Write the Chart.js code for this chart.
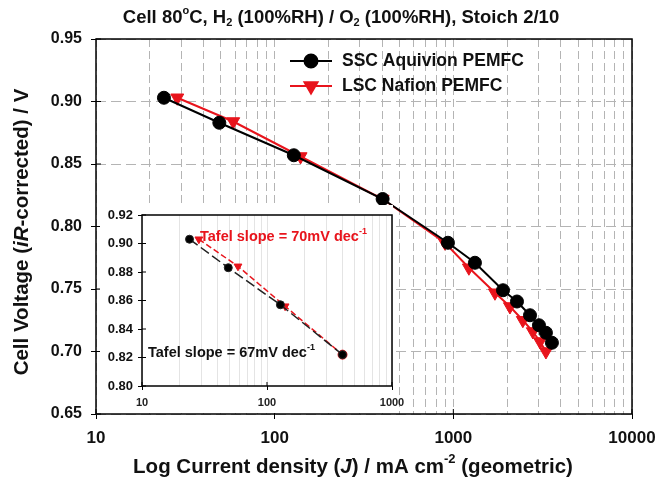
<!DOCTYPE html>
<html>
<head>
<meta charset="utf-8">
<script src="https://cdn.jsdelivr.net/npm/chart.js@4.4.1/dist/chart.umd.min.js"></script>
<style>
    html, body { margin: 0; padding: 0; background: #fff; }
    #wrap { position: relative; width: 660px; height: 483px; }
    #main { position: absolute; left: 0; top: 0; }
    #inset { position: absolute; left: 100px; top: 205px; }
</style>
</head>
<body>
<div id="wrap">
    <canvas id="main" width="660" height="483"></canvas>
    <canvas id="inset" width="314" height="208"></canvas>
</div>
<script>
// Polarisation data (current in mA cm-2, voltage in V)
const sscCurrent = [24, 49, 128, 402, 933, 1321, 1897, 2271, 2686, 3015, 3298, 3563];
const sscVoltage = [0.903, 0.883, 0.857, 0.822, 0.787, 0.771, 0.749, 0.740, 0.729, 0.721, 0.715, 0.707];
const lscCurrent = [28.5, 58.6, 139.6, 402, 897, 1222, 1710, 2074, 2449, 2786, 3055, 3298];
const lscVoltage = [0.903, 0.884, 0.856, 0.822, 0.787, 0.767, 0.747, 0.736, 0.725, 0.716, 0.708, 0.700];

// Tafel region shown in the inset (first four points of each cell)
const tafelPoints = 4;

const voltageTicks = [0.65, 0.70, 0.75, 0.80, 0.85, 0.90, 0.95];
const insetVoltageTicks = [0.80, 0.82, 0.84, 0.86, 0.88, 0.90, 0.92];

const seriesNames = ['SSC Aquivion PEMFC', 'LSC Nafion PEMFC'];
const tafelLabels = ['Tafel slope = 67mV dec', 'Tafel slope = 70mV dec'];

const FONT = '"Liberation Sans", Arial, sans-serif';
const RED = '#e8141c';
const GRID = '#b4b4b4';

const isPow10 = v => Math.abs(Math.log10(v) - Math.round(Math.log10(v))) < 1e-9;

// log ticks 1..9 x 10^n between lo and hi
function logTicks(lo, hi) {
    const out = [];
    for (let d = lo; d < hi; d *= 10) {
        for (let m = 1; m < 10; m++) out.push({ value: m * d, major: m === 1 });
    }
    out.push({ value: hi, major: true });
    return out;
}

function pairs(xs, ys, n) {
    return xs.slice(0, n || xs.length).map((x, i) => ({ x: x, y: ys[i] }));
}

// text with italic / sub / sup pieces
function richText(ctx, parts, x, y, size, align) {
    let w = 0;
    const info = parts.map(p => {
        const s = (p.sup || p.sub) ? Math.round(size * 0.62) : size;
        const f = (p.italic ? 'italic ' : '') + 'bold ' + s + 'px ' + FONT;
        ctx.font = f;
        const pw = ctx.measureText(p.t).width;
        w += pw;
        return { f: f, pw: pw, dy: p.sup ? -size * 0.36 : (p.sub ? size * 0.28 : 0) };
    });
    let cx = align === 'center' ? x - w / 2 : x;
    ctx.textAlign = 'left';
    ctx.textBaseline = 'middle';
    parts.forEach((p, i) => {
        ctx.font = info[i].f;
        ctx.fillText(p.t, cx, y + info[i].dy);
        cx += info[i].pw;
    });
}

function frameAndTicks(chart, len) {
    const ctx = chart.ctx;
    const a = chart.chartArea;
    const xs = chart.scales.x, ys = chart.scales.y;
    ctx.save();
    ctx.strokeStyle = '#000';
    ctx.lineWidth = 1.5;
    ctx.strokeRect(a.left, a.top, a.right - a.left, a.bottom - a.top);
    ctx.lineWidth = 1;
    ctx.beginPath();
    xs.ticks.filter(t => t.major).forEach(t => {
        const px = xs.getPixelForValue(t.value);
        ctx.moveTo(px, a.bottom); ctx.lineTo(px, a.bottom - len);
    });
    ys.ticks.forEach(t => {
        const py = ys.getPixelForValue(t.value);
        ctx.moveTo(a.left, py); ctx.lineTo(a.left + len, py);
    });
    ctx.stroke();
    ctx.restore();
}

const mainDecor = {
    id: 'mainDecor',
    afterDraw(chart) {
        const ctx = chart.ctx;
        const a = chart.chartArea;
        frameAndTicks(chart, 5);
        ctx.save();
        ctx.fillStyle = '#111';

        // title
        richText(ctx, [
            { t: 'Cell 80' }, { t: 'o', sup: true }, { t: 'C, H' }, { t: '2', sub: true },
            { t: ' (100%RH) / O' }, { t: '2', sub: true }, { t: ' (100%RH), Stoich 2/10' }
        ], 341, 18, 18.5, 'center');

        // x title
        richText(ctx, [
            { t: 'Log Current density (' }, { t: 'J', italic: true }, { t: ') / mA cm' },
            { t: '-2', sup: true }, { t: ' (geometric)' }
        ], 353, 467, 20.5, 'center');

        // y title
        ctx.save();
        ctx.translate(22, 232);
        ctx.rotate(-Math.PI / 2);
        richText(ctx, [
            { t: 'Cell Voltage (' }, { t: 'iR', italic: true }, { t: '-corrected) / V' }
        ], 0, 0, 20.5, 'center');
        ctx.restore();

        // legend
        chart.data.datasets.forEach((ds, i) => {
            const ly = 61 + i * 25;
            ctx.strokeStyle = ds.borderColor;
            ctx.fillStyle = ds.backgroundColor;
            ctx.lineWidth = 2;
            ctx.beginPath();
            ctx.moveTo(290, ly); ctx.lineTo(332, ly);
            ctx.stroke();
            Chart.helpers.drawPoint(ctx, {
                pointStyle: ds.pointStyle, rotation: ds.rotation || 0,
                radius: ds.pointRadius, borderWidth: 1
            }, 311, ly);
            ctx.fillStyle = '#111';
            richText(ctx, [{ t: seriesNames[i] }], 342, ly, 17.5, 'left');
        });
        ctx.restore();
    }
};

const insetDecor = {
    id: 'insetDecor',
    beforeDraw(chart) {
        // white panel hiding the main grid behind the inset
        const ctx = chart.ctx;
        ctx.save();
        ctx.fillStyle = '#fff';
        ctx.fillRect(0, 0, chart.chartArea.right + 1, chart.height);
        ctx.restore();
    },
    afterDraw(chart) {
        const ctx = chart.ctx;
        frameAndTicks(chart, 4);
        ctx.save();
        ctx.fillStyle = RED;
        richText(ctx, [{ t: tafelLabels[1] }, { t: '-1', sup: true }], 100, 32, 14.5, 'left');
        ctx.fillStyle = '#111';
        richText(ctx, [{ t: tafelLabels[0] }, { t: '-1', sup: true }], 48, 148, 14.5, 'left');
        ctx.restore();
    }
};

function axisFit(w, h) {
    return scale => {
        if (w) scale.width = w;
        if (h) scale.height = h;
        scale.paddingLeft = scale.paddingRight = scale.paddingTop = scale.paddingBottom = 0;
    };
}

const majorTick = c => (c.tick && isPow10(c.tick.value)) ? '#000' : 'rgba(0,0,0,0)';

new Chart(document.getElementById('main'), {
    type: 'line',
    data: {
        datasets: [{
            label: seriesNames[0],
            data: pairs(sscCurrent, sscVoltage),
            borderColor: '#000',
            backgroundColor: '#000',
            borderWidth: 2,
            pointStyle: 'circle',
            pointRadius: 6.5,
            pointBorderWidth: 1
        }, {
            label: seriesNames[1],
            data: pairs(lscCurrent, lscVoltage),
            borderColor: RED,
            backgroundColor: RED,
            borderWidth: 2,
            pointStyle: 'triangle',
            rotation: 180,
            pointRadius: 7.5,
            pointBorderWidth: 1
        }]
    },
    options: {
        responsive: false,
        devicePixelRatio: 1,
        animation: false,
        events: [],
        layout: { padding: { top: 39, right: 28, left: 0, bottom: 0 } },
        plugins: { legend: { display: false }, tooltip: { enabled: false } },
        scales: {
            x: {
                type: 'logarithmic',
                min: 10,
                max: 10000,
                afterBuildTicks: s => { s.ticks = logTicks(10, 10000); },
                afterFit: axisFit(0, 69),
                ticks: {
                    autoSkip: false,
                    maxRotation: 0,
                    padding: 9,
                    color: '#111',
                    font: { family: FONT, size: 17, weight: 'bold' },
                    callback: v => isPow10(v) ? String(Math.round(v)) : ''
                },
                grid: { color: GRID, tickLength: 5, tickColor: majorTick, tickBorderDash: [] },
                border: { display: false, dash: [8, 4] }
            },
            y: {
                min: 0.65,
                max: 0.95,
                afterBuildTicks: s => { s.ticks = voltageTicks.map(v => ({ value: v })); },
                afterFit: axisFit(96, 0),
                ticks: {
                    padding: 9,
                    color: '#111',
                    font: { family: FONT, size: 16, weight: 'bold' },
                    callback: v => v.toFixed(2)
                },
                grid: { color: GRID, tickLength: 5, tickColor: '#000', tickBorderDash: [] },
                border: { display: false, dash: [10, 5] }
            }
        }
    },
    plugins: [mainDecor]
});

new Chart(document.getElementById('inset'), {
    type: 'line',
    data: {
        datasets: [{
            data: pairs(sscCurrent, sscVoltage, tafelPoints),
            borderColor: '#222',
            backgroundColor: '#000',
            borderWidth: 1.5,
            borderDash: [10, 4],
            pointStyle: 'circle',
            pointRadius: 4,
            pointBorderWidth: 1
        }, {
            data: pairs(lscCurrent, lscVoltage, tafelPoints),
            borderColor: RED,
            backgroundColor: RED,
            borderWidth: 1.5,
            borderDash: [6, 3],
            pointStyle: ['triangle', 'triangle', 'triangle', 'circle'],
            rotation: 180,
            pointRadius: 4.5,
            pointBorderWidth: 1
        }]
    },
    options: {
        responsive: false,
        devicePixelRatio: 1,
        animation: false,
        events: [],
        layout: { padding: { top: 10, right: 22, left: 0, bottom: 0 } },
        plugins: { legend: { display: false }, tooltip: { enabled: false } },
        scales: {
            x: {
                type: 'logarithmic',
                min: 10,
                max: 1000,
                afterBuildTicks: s => { s.ticks = logTicks(10, 1000); },
                afterFit: axisFit(0, 27),
                ticks: {
                    autoSkip: false,
                    maxRotation: 0,
                    padding: 6,
                    color: '#222',
                    font: { family: FONT, size: 11, weight: 'bold' },
                    callback: v => isPow10(v) ? String(Math.round(v)) : ''
                },
                grid: { color: '#e4e4e4', tickLength: 4, tickColor: majorTick, tickBorderDash: [] },
                border: { display: false }
            },
            y: {
                min: 0.80,
                max: 0.92,
                afterBuildTicks: s => { s.ticks = insetVoltageTicks.map(v => ({ value: v })); },
                afterFit: axisFit(42, 0),
                ticks: {
                    padding: 5,
                    color: '#111',
                    font: { family: FONT, size: 13, weight: 'bold' },
                    callback: v => v.toFixed(2)
                },
                grid: { drawOnChartArea: false, tickLength: 4, tickColor: '#000' },
                border: { display: false }
            }
        }
    },
    plugins: [insetDecor]
});
</script>
</body>
</html>
